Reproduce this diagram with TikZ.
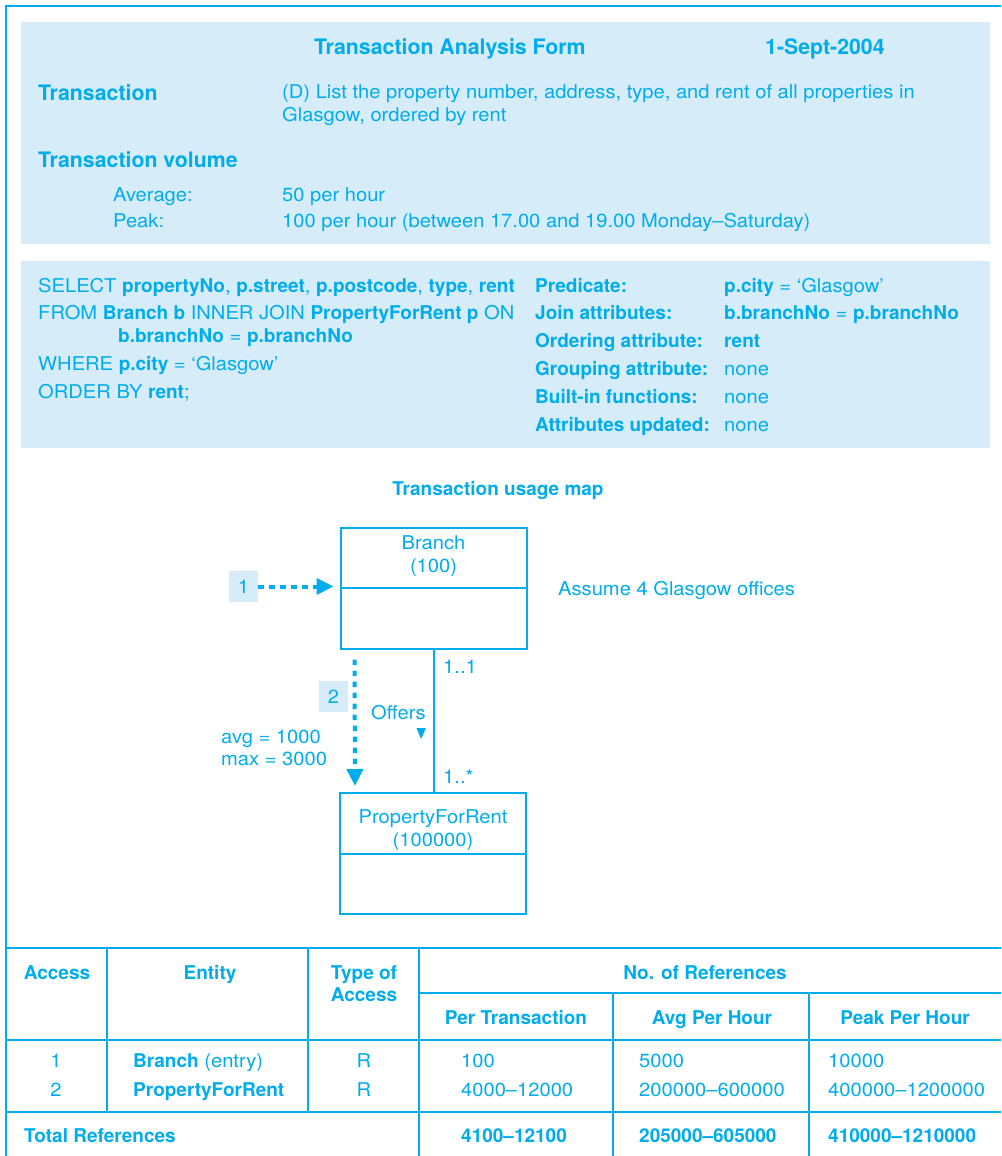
\documentclass[tikz,border=0pt]{standalone}
\usepackage{fontspec}
\setmainfont{TeX Gyre Heros}[UprightFeatures={FakeStretch=1.06}, BoldFeatures={FakeStretch=1.0}]
\usetikzlibrary{arrows.meta}

\definecolor{azul}{RGB}{0,172,236}
\definecolor{celeste}{RGB}{214,237,249}

\newcommand{\kw}[1]{\textbf{#1}}

% entity box: name, centre, text offset, first line, second line
\newcommand{\clase}[5]{%
  \node[clase] (#1) at (#2) {};
  \draw[line width=2pt] (#1.west) -- (#1.east);
  \node[align=center, text=azul, inner sep=0pt] (#1-t) at ([yshift=#3]#1.north) {#4\\#5};}

\begin{document}
\begin{tikzpicture}[x=1pt, y=-1pt, font=\fontsize{19}{23}\selectfont, azul,
  txt/.style={anchor=base west, inner sep=0pt, text=azul},
  mid/.style={anchor=base, inner sep=0pt, text=azul},
  tit/.style={txt, font=\fontsize{21.3}{25}\selectfont\bfseries},
  clase/.style={draw, line width=2pt, minimum width=186, minimum height=121, inner sep=0pt},
  num/.style={fill=celeste, text=azul, minimum width=29, minimum height=31, inner sep=0pt},
  flecha/.style={line width=4pt, dash pattern=on 5.5pt off 5.5pt, -{Triangle[length=17pt,width=16pt]}},
  tabla/.style={line width=2.5pt}]
  \useasboundingbox (0,0) rectangle (1001,1156);
  \draw[tabla] (6,1156) -- (6,6) -- (1001,6);

  % form header
  \fill[celeste] (21,22) rectangle (990,244);
  \node[tit] (titulo) at (314,55) {Transaction Analysis Form};
  \node[tit] (fecha) at (765,55) {1-Sept-2004};
  \node[tit] (trans) at (38,100) {Transaction};
  \node[txt] (desc1) at (282,99) {(D) List the property number, address, type, and rent of all properties in};
  \node[txt] (desc2) at (282,121) {Glasgow, ordered by rent};
  \node[tit] (vol) at (38,167) {Transaction volume};
  \node[txt] (avg) at (113,201) {Average:};
  \node[txt] (avgv) at (282,201) {50 per hour};
  \node[txt] (peak) at (113,227) {Peak:};
  \node[txt] (peakv) at (282,227) {100 per hour (between 17.00 and 19.00 Monday--Saturday)};

  % query
  \fill[celeste] (21,261) rectangle (990,448);
  \node[txt] (sql1) at (38,292) {SELECT \kw{propertyNo}, \kw{p.street}, \kw{p.postcode}, \kw{type}, \kw{rent}};
  \node[txt] (sql2) at (38,319) {FROM \kw{Branch b} INNER JOIN \kw{PropertyForRent p} ON};
  \node[txt] (sql3) at (118,342) {\kw{b.branchNo} = \kw{p.branchNo}};
  \node[txt] (sql4) at (38,370) {WHERE \kw{p.city} = `Glasgow'};
  \node[txt] (sql5) at (38,398) {ORDER BY \kw{rent};};
  \node[txt] (pred) at (535,292) {\kw{Predicate:}};
  \node[txt] (predv) at (724,292) {\kw{p.city} = `Glasgow'};
  \node[txt] (join) at (535,319) {\kw{Join attributes:}};
  \node[txt] (joinv) at (724,319) {\kw{b.branchNo} = \kw{p.branchNo}};
  \node[txt] (orden) at (535,347) {\kw{Ordering attribute:}};
  \node[txt] (ordenv) at (724,347) {\kw{rent}};
  \node[txt] (grupo) at (535,375) {\kw{Grouping attribute:}};
  \node[txt] (grupov) at (724,375) {none};
  \node[txt] (func) at (535,403) {\kw{Built-in functions:}};
  \node[txt] (funcv) at (724,403) {none};
  \node[txt] (upd) at (535,431) {\kw{Attributes updated:}};
  \node[txt] (updv) at (724,431) {none};

  % usage map
  \node[mid] (mapa) at (498,495) {\kw{Transaction usage map}};
  \clase{branch}{433.5,588}{-30}{Branch}{(100)}
  \clase{prop}{433,853.5}{-38}{PropertyForRent}{(100000)}
  \node[txt] (nota) at (558,595) {Assume 4 Glasgow offices};
  \node[num] (uno) at (243.5,586.5) {1};
  \node[num] (dos) at (333.5,696.5) {2};
  \draw[flecha] (uno.east) -- (uno.east -| branch.west) [shorten >=6pt];
  \draw[flecha, shorten <=10pt, shorten >=6pt] ([xshift=15]branch.south west) -- ([xshift=16]prop.north west);
  \draw[line width=2pt] (branch.south) -- (branch.south |- prop.north);
  \node[txt] (card1) at (443,673) {1..1};
  \node[txt] (card2) at (443,783) {1..*};
  \node[txt] (offers) at (371,719) {Offers};
  \fill ([yshift=-9]offers.base east) -- ++(-9.5,0) -- ++(4.75,11) -- cycle;
  \node[txt] (media) at (221,743) {avg = 1000};
  \node[txt] (maximo) at (221,765) {max = 3000};

  % access table
  \draw[tabla] (6,948) -- (1001,948);
  \draw[tabla] (419,993) -- (1001,993);
  \draw[tabla] (6,1040) -- (1001,1040);
  \draw[tabla] (6,1112) -- (1001,1112);
  \draw[tabla] (107,948) -- (107,1112);
  \draw[tabla] (308,948) -- (308,1112);
  \draw[tabla] (419,948) -- (419,1156);
  \draw[tabla] (613,993) -- (613,1156);
  \draw[tabla] (809,993) -- (809,1156);

  \node[mid] (h1) at (57,979) {\kw{Access}};
  \node[mid] (h2) at (210,979) {\kw{Entity}};
  \node[mid] (h3) at (364,979) {\kw{Type of}};
  \node[mid] (h3b) at (364,1001) {\kw{Access}};
  \node[mid] (h4) at (705,979) {\kw{No. of References}};
  \node[mid] (h5) at (516,1024) {\kw{Per Transaction}};
  \node[mid] (h6) at (712,1024) {\kw{Avg Per Hour}};
  \node[mid] (h7) at (905,1024) {\kw{Peak Per Hour}};

  \node[mid] (a1) at (56,1067) {1};
  \node[txt] (e1) at (133,1067) {\kw{Branch} (entry)};
  \node[mid] (t1) at (364,1067) {R};
  \node[txt] (p1) at (461,1067) {100};
  \node[txt] (m1) at (639,1067) {5000};
  \node[txt] (k1) at (828,1067) {10000};
  \node[mid] (a2) at (56,1096) {2};
  \node[txt] (e2) at (133,1096) {\kw{PropertyForRent}};
  \node[mid] (t2) at (364,1096) {R};
  \node[txt] (p2) at (461,1096) {4000--12000};
  \node[txt] (m2) at (639,1096) {200000--600000};
  \node[txt] (k2) at (828,1096) {400000--1200000};

  \node[txt] (total) at (24,1142) {\kw{Total References}};
  \node[txt] (pt) at (461,1142) {\kw{4100--12100}};
  \node[txt] (mt) at (639,1142) {\kw{205000--605000}};
  \node[txt] (kt) at (828,1142) {\kw{410000--1210000}};
\end{tikzpicture}
\end{document}
